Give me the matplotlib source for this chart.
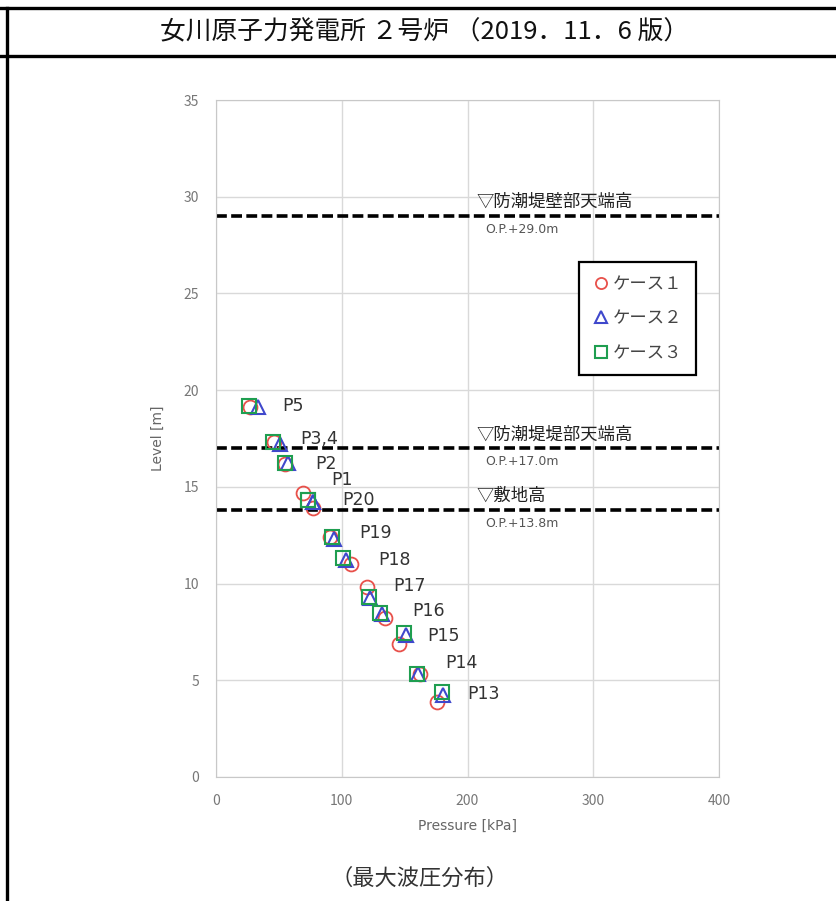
import numpy as np
import matplotlib.pyplot as plt
from matplotlib.lines import Line2D

plt.rcParams['font.family'] = ['Noto Sans CJK JP', 'DejaVu Sans']

# 地点ラベル
points = ["P5", "P3,4", "P2", "P1", "P20", "P19", "P18", "P17", "P16", "P15", "P14", "P13"]

# ケース1 (circle)
case1_p = [27, 46, 55, 69, 77, 91, 107, 120, 134.5, 145.5, 162, 176]
case1_z = [19.15, 17.3, 16.2, 14.7, 13.9, 12.4, 11.0, 9.8, 8.2, 6.9, 5.3, 3.9]
# ケース2 (triangle)
case2_p = [33.5, 51, 57, 77, 77, 94, 103.5, 122.5, 132, 151, 161, 180.5]
case2_z = [19.15, 17.2, 16.25, 14.2, 14.2, 12.3, 11.2, 9.25, 8.45, 7.35, 5.3, 4.25]
# ケース3 (square)
case3_p = [26, 45, 55, 73, 73, 92, 101, 122, 130.5, 149.5, 159.8, 179.5]
case3_z = [19.2, 17.3, 16.25, 14.3, 14.3, 12.4, 11.3, 9.3, 8.5, 7.45, 5.3, 4.4]

# ラベル位置
label_p = [53, 67, 79, 92, 100, 114, 129, 141, 156, 168, 182, 200]
label_z = [19.2, 17.5, 16.2, 15.35, 14.3, 12.6, 11.2, 9.9, 8.6, 7.3, 5.9, 4.3]

# 基準高さ
levels = [29.0, 17.0, 13.8]
level_names = ["▽防潮堤壁部天端高", "▽防潮堤堤部天端高", "▽敷地高"]
level_ops = ["O.P.+29.0m", "O.P.+17.0m", "O.P.+13.8m"]

fig = plt.figure(figsize=(8.36, 9.01), dpi=100)

# 表の枠線
W, H = 836, 901
def fig_line(x0, y0, x1, y1):
    fig.add_artist(Line2D([x0 / W, x1 / W], [1 - y0 / H, 1 - y1 / H],
                          color='black', lw=2.4, transform=fig.transFigure))
fig_line(0, 8, W, 8)
fig_line(0, 56, W, 56)
fig_line(7, 8, 7, H)

fig.text(425 / W, 1 - 32 / H, "女川原子力発電所 ２号炉 （2019．11．6 版）",
         ha='center', va='center', fontsize=18.5, color='#111111')
fig.text(420 / W, 1 - 878 / H, "（最大波圧分布）",
         ha='center', va='center', fontsize=16, color='#333333')

ax = fig.add_axes([216 / W, 1 - 777 / H, 503 / W, 677 / H])

ax.plot(case1_p, case1_z, 'o', mfc='none', mec='#e8504a', mew=1.3, ms=10,
        label='ケース１', zorder=3)
ax.plot(case2_p, case2_z, '^', mfc='none', mec='#3f48cc', mew=1.5, ms=10,
        label='ケース２', zorder=4)
ax.plot(case3_p, case3_z, 's', mfc='none', mec='#1f9e50', mew=1.5, ms=10,
        label='ケース３', zorder=5)

for name, px, pz in zip(points, label_p, label_z):
    ax.text(px, pz, name, fontsize=12.5, color='#333333', va='center',
            ha='left', family='DejaVu Sans', zorder=6)

for lv, nm, op in zip(levels, level_names, level_ops):
    ax.axhline(lv, color='black', lw=2.6, ls=(0, (3, 1.2)), zorder=2)
    ax.text(207, lv + 0.25, nm, fontsize=12.5, color='#222222',
            va='bottom', ha='left')
    ax.text(214, lv - 0.35, op, fontsize=9, color='#555555',
            va='top', ha='left', family='DejaVu Sans')

ax.set_xlim(0, 400)
ax.set_ylim(0, 35)
ax.set_xticks(np.arange(0, 401, 100))
ax.set_yticks(np.arange(0, 36, 5))
ax.grid(True, color='#d9d9d9', lw=1)
ax.set_axisbelow(True)
ax.tick_params(length=0, colors='#777777', labelsize=10, pad=12)
for s in ax.spines.values():
    s.set_color('#c8c8c8')

ax.set_xlabel("Pressure [kPa]", color='#666666', fontsize=10,
              family='DejaVu Sans', labelpad=8)
ax.set_ylabel("Level [m]", color='#666666', fontsize=10,
              family='DejaVu Sans', labelpad=14)

leg = ax.legend(loc='upper left', bbox_to_anchor=(0.722, 0.761),
                borderaxespad=0, fancybox=False, framealpha=1,
                fontsize=12.5, handletextpad=0.2, handlelength=1.0,
                labelspacing=0.95, borderpad=0.75, markerscale=0.8)
leg.get_frame().set_edgecolor('black')
leg.get_frame().set_linewidth(1.6)
for t in leg.get_texts():
    t.set_color('#444444')

fig.savefig('out.png', dpi=100)
